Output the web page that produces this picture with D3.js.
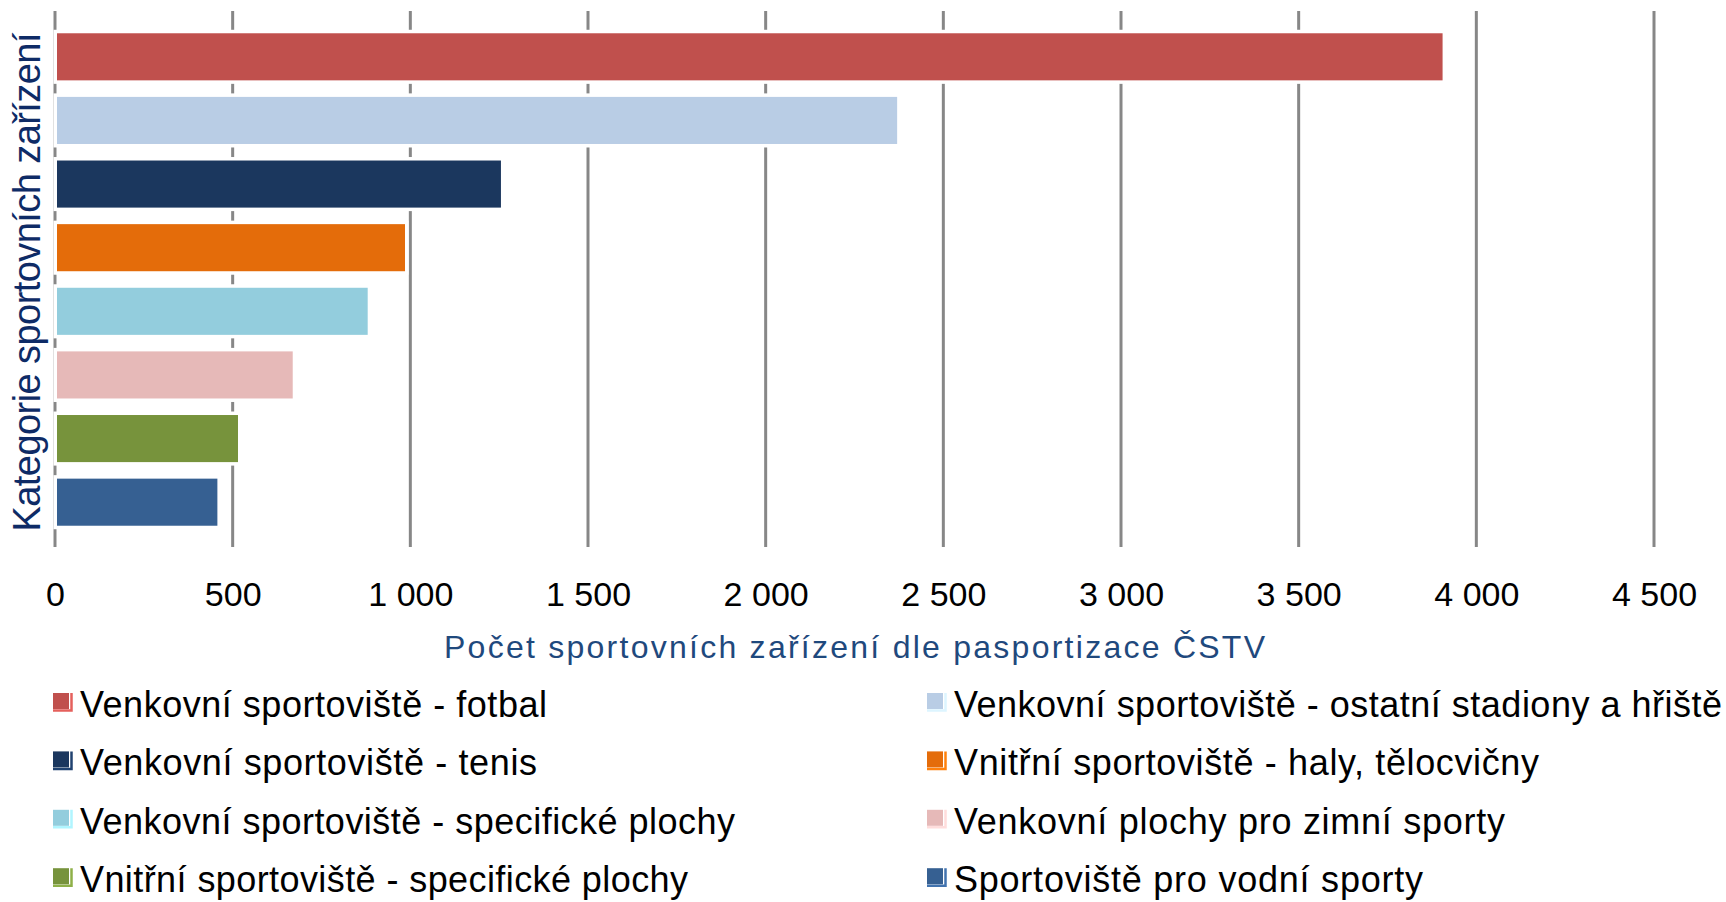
<!DOCTYPE html>
<html>
<head>
<meta charset="utf-8">
<script src="https://cdn.jsdelivr.net/npm/d3@7"></script>
<style>
	body { margin: 0; background: #fff; }
	svg text { font-family: "Liberation Sans", Arial, sans-serif; }
</style>
</head>
<body>
<svg id="chart" width="1726" height="902"></svg>
<script>
var categories = [
	"Venkovní sportoviště - fotbal",
	"Venkovní sportoviště - ostatní stadiony a hřiště",
	"Venkovní sportoviště - tenis",
	"Vnitřní sportoviště - haly, tělocvičny",
	"Venkovní sportoviště - specifické plochy",
	"Venkovní plochy pro zimní sporty",
	"Vnitřní sportoviště - specifické plochy",
	"Sportoviště pro vodní sporty"
];
var values = [3905, 2370, 1255, 985, 880, 669, 515, 457];
var colors = ["#C0504D", "#B9CDE5", "#1B375E", "#E46C0A", "#93CDDD", "#E6B9B8", "#77933C", "#366092"];
var xTicks = [0, 500, 1000, 1500, 2000, 2500, 3000, 3500, 4000, 4500];
var xTitle = "Počet sportovních zařízení dle pasportizace ČSTV";
var yTitle = "Kategorie sportovních zařízení";

(function () {
	var svg = d3.select("#chart"),
		gridTop = 11,
		gridBottom = 547;

	var data = categories.map(function (c, i) {
		return { name: c, value: values[i], color: colors[i] };
	});

	var x = d3.scaleLinear().domain([0, 4500]).range([55, 1654]);
	var y = d3.scaleBand().domain(categories).range([25, 534])
		.paddingInner(0.26).paddingOuter(0.13);

	var fmt = d3.formatLocale({ decimal: ",", thousands: " ", grouping: [3], currency: ["", " Kč"] }).format(",d");

	// gridlines (the 0 line doubles as the axis)
	svg.append("g")
		.selectAll("line")
		.data(xTicks)
		.enter()
		.append("line")
		.attr("x1", function (d) { return x(d); })
		.attr("x2", function (d) { return x(d); })
		.attr("y1", gridTop)
		.attr("y2", gridBottom)
		.style("stroke", "#878787")
		.style("stroke-width", 3);

	// bars, white outline cuts the gridlines like in excel
	svg.append("g")
		.selectAll("rect")
		.data(data)
		.enter()
		.append("rect")
		.attr("x", x(0) + 2)
		.attr("y", function (d) { return y(d.name); })
		.attr("width", function (d) { return x(d.value) - x(0) - 2; })
		.attr("height", y.bandwidth())
		.style("fill", function (d) { return d.color; })
		.style("stroke", "#fff")
		.style("stroke-width", 7)
		.style("paint-order", "stroke");

	// x axis labels
	var xAxis = svg.append("g")
		.attr("transform", "translate(0," + 574 + ")")
		.call(d3.axisBottom(x).tickValues(xTicks).tickSize(0).tickPadding(0).tickFormat(fmt));
	xAxis.select(".domain").remove();
	xAxis.selectAll("text")
		.attr("dy", "0")
		.attr("y", 32)
		.style("font-size", "34px")
		.style("fill", "#000");

	svg.append("text")
		.text(xTitle)
		.attr("x", (x(0) + x(4500)) / 2)
		.attr("y", 658)
		.attr("text-anchor", "middle")
		.attr("textLength", 821)
		.style("font-size", "32px")
		.style("fill", "#1F497D");

	svg.append("text")
		.text(yTitle)
		.attr("transform", "translate(40," + 282 + ") rotate(-90)")
		.attr("text-anchor", "middle")
		.attr("textLength", 499)
		.style("font-size", "38px")
		.style("fill", "#0E2B66");

	// legend, two columns
	var legendW = [467, 768, 457, 585, 655, 551, 608, 469];
	var legend = svg.append("g")
		.selectAll("g")
		.data(data)
		.enter()
		.append("g")
		.attr("transform", function (d, i) {
			return "translate(" + (i % 2 === 0 ? 53 : 927) + "," + (693 + Math.floor(i / 2) * 58.4) + ")";
		});

	legend.append("path")
		.attr("d", "M18.5,0V17.5H0")
		.style("fill", "none")
		.style("stroke", function (d) { return d3.color(d.color).brighter(0.5); })
		.style("stroke-width", 2.5);

	legend.append("rect")
		.attr("width", 16)
		.attr("height", 16)
		.style("fill", function (d) { return d.color; });

	legend.append("text")
		.text(function (d) { return d.name; })
		.attr("x", 27)
		.attr("y", 24)
		.attr("textLength", function (d, i) { return legendW[i]; })
		.style("font-size", "36px")
		.style("fill", "#000");
})();
</script>
</body>
</html>
